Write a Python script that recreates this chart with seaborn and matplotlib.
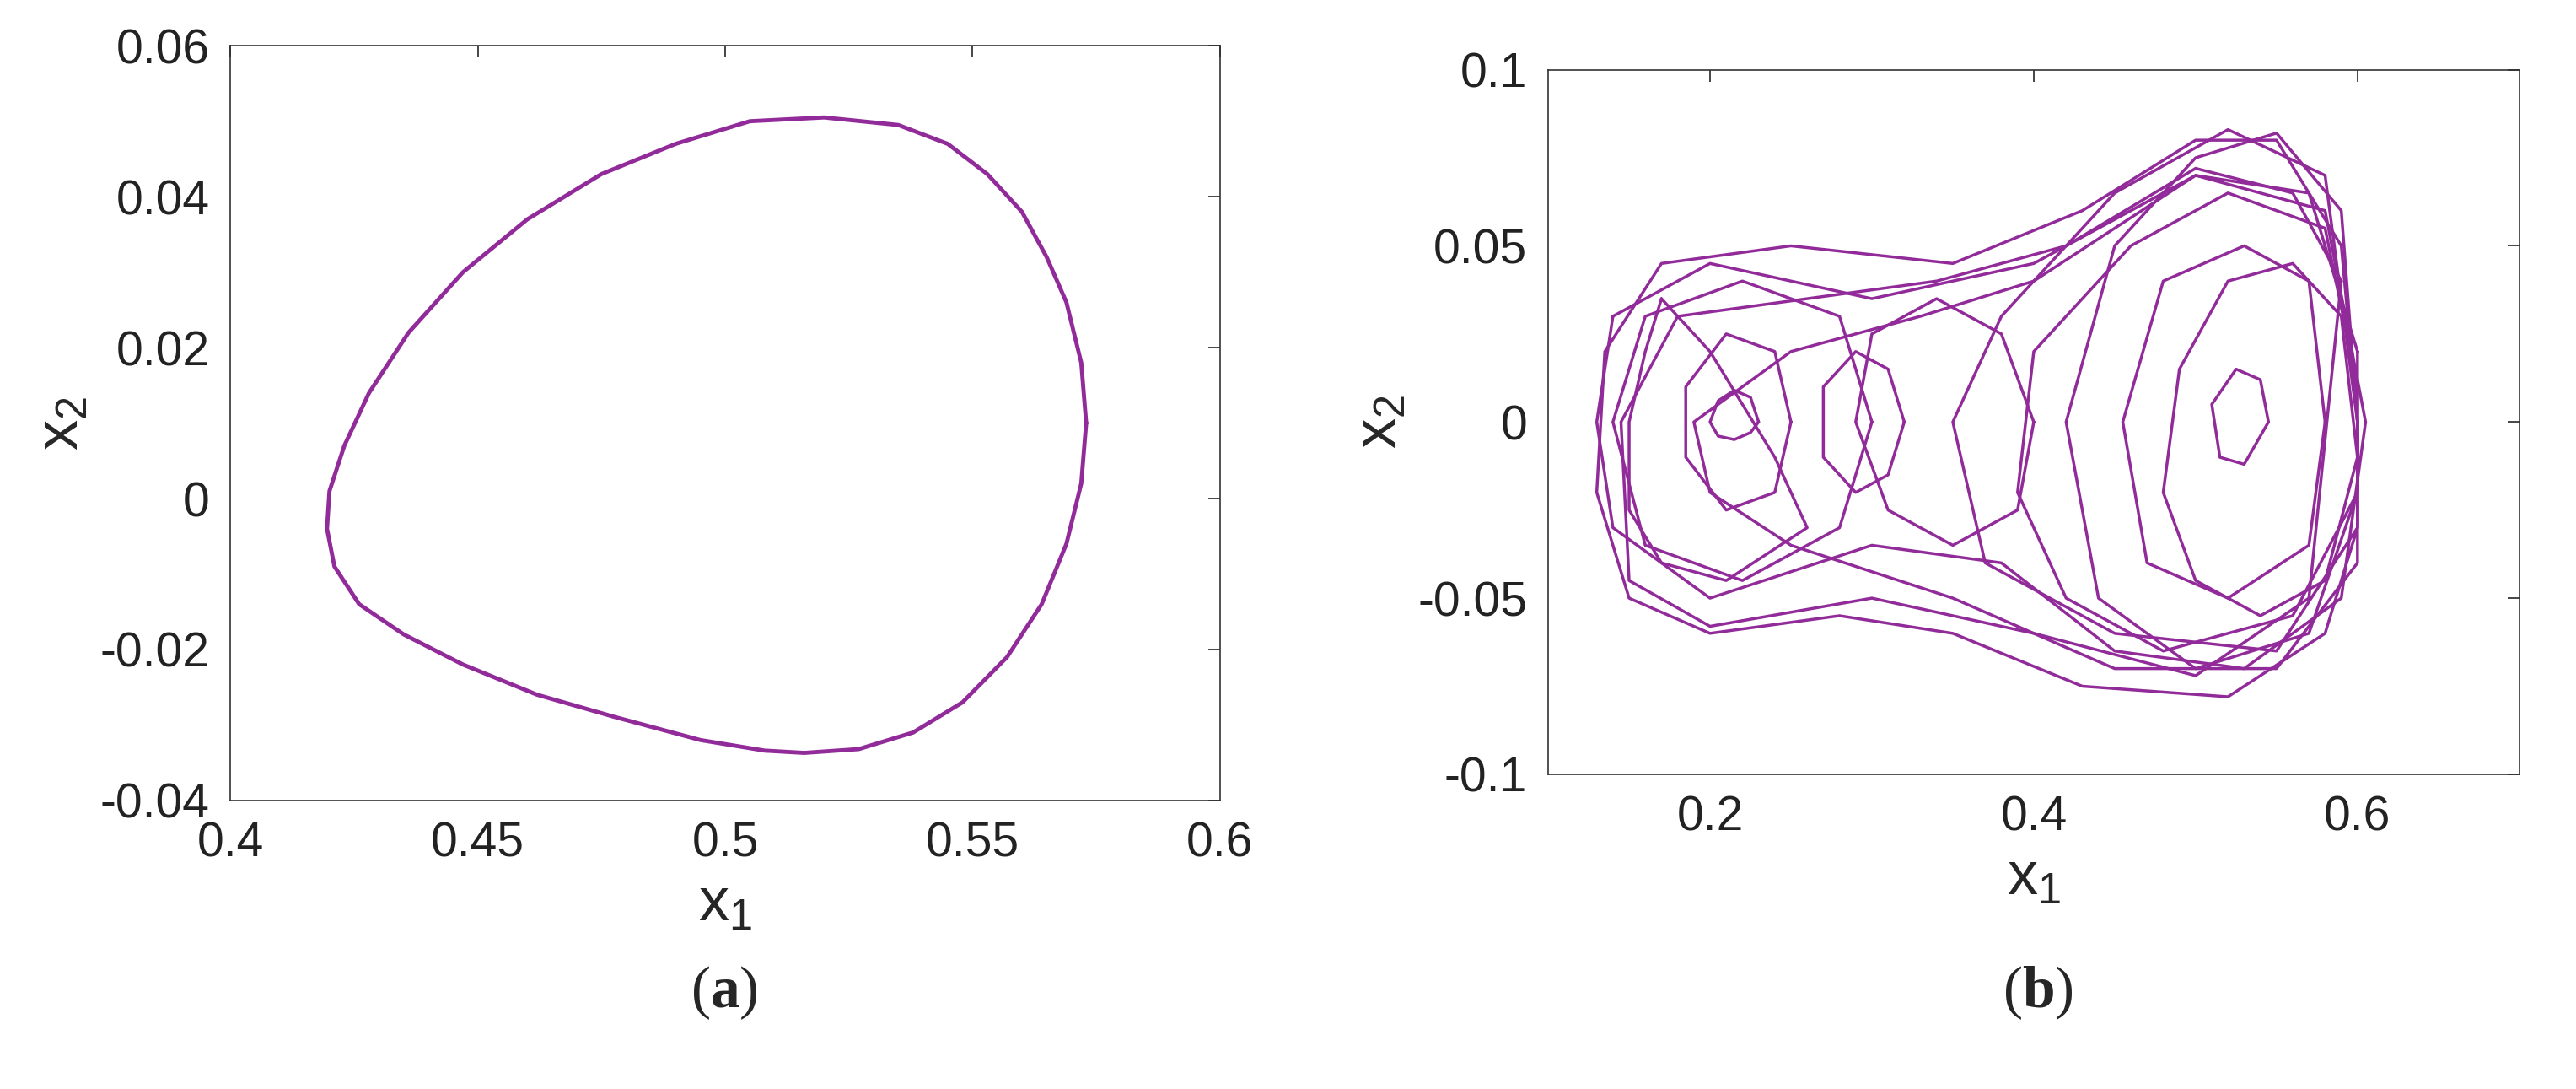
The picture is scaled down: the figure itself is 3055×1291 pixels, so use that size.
import numpy as np
import pandas as pd
import matplotlib
matplotlib.use('Agg')
import matplotlib.pyplot as plt
import seaborn as sns

sns.set_style('white')
plt.rcParams['font.family'] = ['Liberation Sans', 'DejaVu Sans']
plt.rcParams['mathtext.fontset'] = 'custom'
plt.rcParams['mathtext.bf'] = 'Liberation Serif:bold'
plt.rcParams['mathtext.rm'] = 'Liberation Sans'
purple = '#922B9A'

# panel (a): limit cycle
cycle_x1 = [0.573, 0.572, 0.569, 0.565, 0.560, 0.553, 0.545, 0.535, 0.520, 0.505, 0.490, 0.475,
            0.460, 0.447, 0.436, 0.428, 0.423, 0.420, 0.4195, 0.421, 0.426, 0.435, 0.447, 0.462,
            0.478, 0.495, 0.508, 0.516, 0.527, 0.538, 0.548, 0.557, 0.564, 0.569, 0.572, 0.573]
cycle_x2 = [0.010, 0.018, 0.026, 0.032, 0.038, 0.043, 0.047, 0.0495, 0.0505, 0.050, 0.047, 0.043,
            0.037, 0.030, 0.022, 0.014, 0.007, 0.001, -0.004, -0.009, -0.014, -0.018, -0.022, -0.026,
            -0.029, -0.032, -0.0334, -0.0337, -0.0332, -0.031, -0.027, -0.021, -0.014, -0.006, 0.002, 0.010]

# panel (b): loops of the chaotic trajectory
loops_x1 = [
    [0.60, 0.59, 0.55, 0.50, 0.43, 0.35, 0.25, 0.17, 0.135, 0.13, 0.15, 0.20, 0.28, 0.35, 0.43, 0.52, 0.58, 0.60, 0.60],
    [0.60, 0.59, 0.55, 0.50, 0.45, 0.42, 0.44, 0.50, 0.57, 0.60, 0.60],
    [0.58, 0.57, 0.53, 0.48, 0.455, 0.47, 0.52, 0.57, 0.58],
    [0.30, 0.28, 0.22, 0.16, 0.14, 0.16, 0.22, 0.28, 0.30],
    [0.25, 0.24, 0.21, 0.185, 0.185, 0.21, 0.24, 0.25],
    [0.32, 0.31, 0.29, 0.27, 0.27, 0.29, 0.31, 0.32],
    [0.14, 0.20, 0.30, 0.40, 0.50, 0.58, 0.605, 0.59, 0.53, 0.45, 0.38, 0.30, 0.20, 0.14, 0.13, 0.14],
    [0.60, 0.58, 0.52, 0.45, 0.38, 0.35, 0.37, 0.45, 0.55, 0.60, 0.60],
    [0.545, 0.54, 0.525, 0.51, 0.515, 0.53, 0.545],
    [0.60, 0.57, 0.50, 0.40, 0.33, 0.25, 0.19, 0.20, 0.25, 0.35, 0.45, 0.55, 0.60, 0.60],
    [0.60, 0.58, 0.52, 0.46, 0.40, 0.39, 0.42, 0.48, 0.56, 0.60, 0.60],
    [0.23, 0.225, 0.215, 0.205, 0.20, 0.205, 0.215, 0.225, 0.23],
    [0.59, 0.56, 0.50, 0.42, 0.34, 0.26, 0.18, 0.145, 0.15, 0.20, 0.30, 0.40, 0.50, 0.57, 0.59],
    [0.40, 0.38, 0.34, 0.30, 0.29, 0.31, 0.35, 0.39, 0.40],
    [0.60, 0.59, 0.56, 0.52, 0.49, 0.48, 0.50, 0.54, 0.58, 0.60],
    [0.17, 0.16, 0.15, 0.15, 0.17, 0.21, 0.26, 0.24, 0.20, 0.17],
]
loops_x2 = [
    [0.0, 0.05, 0.08, 0.08, 0.06, 0.045, 0.05, 0.045, 0.02, -0.02, -0.05, -0.06, -0.055, -0.06, -0.075, -0.078, -0.06, -0.03, 0.0],
    [0.0, 0.06, 0.082, 0.075, 0.05, 0.0, -0.05, -0.07, -0.06, -0.02, 0.0],
    [0.0, 0.04, 0.05, 0.04, 0.0, -0.04, -0.05, -0.035, 0.0],
    [0.0, 0.03, 0.04, 0.03, 0.0, -0.035, -0.045, -0.03, 0.0],
    [0.0, 0.02, 0.025, 0.01, -0.01, -0.025, -0.02, 0.0],
    [0.0, 0.015, 0.02, 0.01, -0.01, -0.02, -0.015, 0.0],
    [0.03, 0.045, 0.035, 0.045, 0.07, 0.06, 0.0, -0.05, -0.07, -0.065, -0.04, -0.035, -0.05, -0.03, 0.0, 0.03],
    [0.0, 0.07, 0.083, 0.065, 0.03, 0.0, -0.04, -0.06, -0.065, -0.03, 0.0],
    [0.0, 0.012, 0.015, 0.005, -0.01, -0.012, 0.0],
    [0.02, 0.065, 0.07, 0.04, 0.03, 0.02, 0.0, -0.02, -0.035, -0.05, -0.07, -0.07, -0.04, 0.02],
    [0.01, 0.055, 0.065, 0.05, 0.02, -0.02, -0.05, -0.065, -0.055, -0.02, 0.01],
    [0.0, 0.007, 0.009, 0.006, 0.0, -0.004, -0.005, -0.003, 0.0],
    [0.04, 0.065, 0.072, 0.05, 0.04, 0.035, 0.03, 0.0, -0.045, -0.058, -0.05, -0.06, -0.072, -0.05, 0.04],
    [0.0, 0.025, 0.035, 0.025, 0.0, -0.025, -0.035, -0.025, 0.0],
    [-0.01, 0.03, 0.045, 0.04, 0.015, -0.02, -0.045, -0.055, -0.045, -0.01],
    [0.035, 0.02, 0.0, -0.025, -0.04, -0.045, -0.03, -0.01, 0.02, 0.035],
]

fig = plt.figure(figsize=(30.55, 12.91), dpi=100)
ax1 = fig.add_axes([0.0895, 0.265, 0.384, 0.693])
ax2 = fig.add_axes([0.601, 0.289, 0.377, 0.647])

sns.lineplot(x=cycle_x1, y=cycle_x2, sort=False, estimator=None, color=purple, lw=3.5, ax=ax1)
for lx, ly in zip(loops_x1, loops_x2):
    df = pd.DataFrame({'x1': lx, 'x2': ly})
    sns.lineplot(data=df, x='x1', y='x2', sort=False, estimator=None, color=purple, lw=2.5, ax=ax2)
for ln in ax1.lines + ax2.lines:
    ln.set_solid_joinstyle('round')

ax1.set_xlim(0.4, 0.6)
ax1.set_ylim(-0.04, 0.06)
ax1.set_xticks([0.4, 0.45, 0.5, 0.55, 0.6])
ax1.set_xticklabels(['0.4', '0.45', '0.5', '0.55', '0.6'])
ax1.set_yticks([-0.04, -0.02, 0, 0.02, 0.04, 0.06])
ax1.set_yticklabels(['-0.04', '-0.02', '0', '0.02', '0.04', '0.06'])

ax2.set_xlim(0.1, 0.7)
ax2.set_ylim(-0.1, 0.1)
ax2.set_xticks([0.2, 0.4, 0.6])
ax2.set_xticklabels(['0.2', '0.4', '0.6'])
ax2.set_yticks([-0.1, -0.05, 0, 0.05, 0.1])
ax2.set_yticklabels(['-0.1', '-0.05', '0', '0.05', '0.1'])

for ax in (ax1, ax2):
    ax.set_xlabel('x$_1$', fontsize=52, labelpad=8)
    ax.set_ylabel('x$_2$', fontsize=52, labelpad=8)
    ax.tick_params(direction='in', length=10, width=1.2, labelsize=41, top=True, right=True, pad=18,
                   labelcolor='#222222')
    for s in ax.spines.values():
        s.set_linewidth(1.2)
        s.set_color('#333333')

fig.text(0.281, 0.075, r'($\mathbf{a}$)', fontsize=50, ha='center', family='Liberation Serif')
fig.text(0.791, 0.075, r'($\mathbf{b}$)', fontsize=50, ha='center', family='Liberation Serif')

fig.savefig('out.png', dpi=100)
